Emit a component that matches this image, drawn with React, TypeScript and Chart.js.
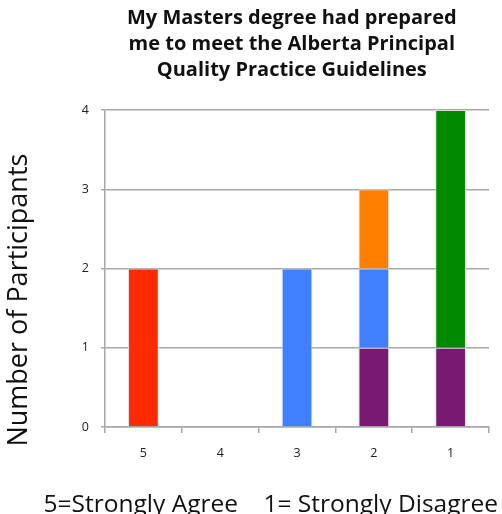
import React, { useEffect, useRef } from "react";
import { Chart, registerables } from "chart.js";

Chart.register(...registerables);

const categories = ["5", "4", "3", "2", "1"];
const purpleValues = [null, null, null, 1, 1];
const redValues = [2, null, null, null, null];
const blueValues = [null, null, 2, 1, null];
const greenValues = [null, null, null, null, 3];
const orangeValues = [null, null, null, 1, null];

const titleLines = [
  "My Masters degree had prepared  ",
  "me to meet the Alberta Principal  ",
  "Quality Practice Guidelines  ",
];
const yAxisTitle = "Number of Participants         ";
const xAxisTitle = "5=Strongly Agree    1= Strongly Disagree";

const FONT = "'Open Sans', 'DejaVu Sans', sans-serif";

export default function App() {
  const ref = useRef<HTMLCanvasElement | null>(null);

  useEffect(() => {
    if (!ref.current) return;
    const border = "#dcdcdc";
    const mk = (label: string, data: (number | null)[], color: string) => ({
      label,
      data,
      backgroundColor: color,
      borderColor: border,
      borderWidth: 1,
      categoryPercentage: 0.4,
      barPercentage: 1,
    });
    const chart = new Chart(ref.current, {
      type: "bar",
      data: {
        labels: categories,
        datasets: [
          mk("Purple", purpleValues, "#781a72"),
          mk("Red", redValues, "#ff2a00"),
          mk("Blue", blueValues, "#4080ff"),
          mk("Green", greenValues, "#008a00"),
          mk("Orange", orangeValues, "#ff8000"),
        ],
      },
      options: {
        responsive: false,
        animation: false,
        layout: { padding: { left: 0, right: 4, top: 0, bottom: 0 } },
        plugins: {
          legend: { display: false },
          tooltip: { enabled: false },
          title: {
            display: true,
            fullSize: false,
            text: titleLines,
            color: "#111",
            font: { family: FONT, size: 20, weight: "bold", lineHeight: 1.3 },
            padding: { top: 5, bottom: 27 },
          },
          subtitle: {
            display: true,
            position: "bottom",
            fullSize: true,
            align: "end",
            text: xAxisTitle,
            color: "#111",
            font: { family: FONT, size: 24.5, lineHeight: 0.75 },
            padding: { top: 0, bottom: 0 },
          },
        },
        scales: {
          x: {
            stacked: true,
            afterFit: (s: any) => {
              s.height = 68.6;
            },
            grid: {
              display: true,
              drawOnChartArea: false,
              drawTicks: true,
              tickLength: 6,
              color: "#a8a8a8",
              lineWidth: 1.5,
              offset: true,
            },
            border: { display: true, color: "#a8a8a8", width: 1.5 },
            ticks: {
              color: "#222",
              font: { family: FONT, size: 12.5 },
              padding: 13,
            },
          },
          y: {
            stacked: true,
            min: 0,
            max: 4,
            afterFit: (s: any) => {
              s.width = 105;
            },
            grid: {
              color: "#a8a8a8",
              lineWidth: 1.5,
              tickLength: 4,
              drawTicks: true,
            },
            border: { display: true, color: "#a8a8a8", width: 1.5 },
            ticks: {
              stepSize: 1,
              color: "#222",
              font: { family: FONT, size: 12.5 },
              padding: 12,
            },
            title: {
              display: true,
              text: yAxisTitle,
              color: "#111",
              font: { family: FONT, size: 27, lineHeight: 1.2 },
              padding: { top: 3, bottom: 0 },
            },
          },
          yRight: {
            type: "linear",
            position: "right",
            display: true,
            grid: { display: false },
            border: { display: false },
            ticks: { display: false },
            afterFit: (s: any) => {
              s.width = 9;
            },
          },
        },
      },
    } as any);
    return () => chart.destroy();
  }, []);

  return (
    <div style={{ position: "absolute", left: 0, top: 0, width: 502, height: 514, background: "#fff" }}>
      <canvas ref={ref} width={502} height={514} style={{ display: "block" }} />
    </div>
  );
}
